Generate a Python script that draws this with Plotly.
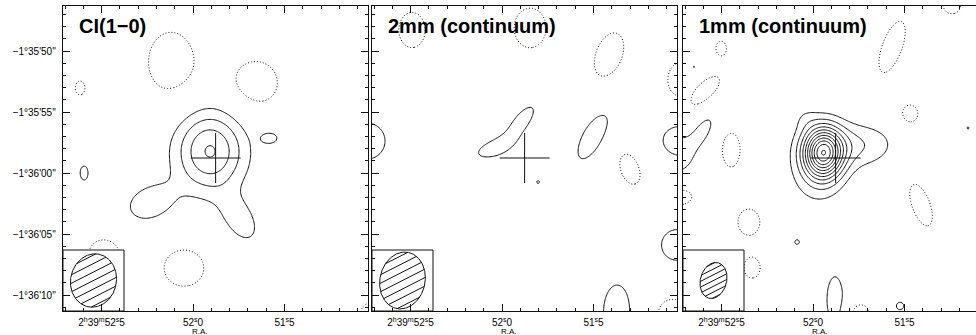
import numpy as np
import plotly.graph_objects as go

# ---------------- data ----------------
titles = ["CI(1\u22120)", "2mm (continuum)", "1mm (continuum)"]

# Emission components (offsets in arcsec from 02h39m52.0s, -01d36'00"; east positive),
# amplitude in units of the contour step, gaussian sigmas (arcsec), PA (deg E of N)
ci_dra  = [-1.39, 3.52, -3.85, -6.30, 8.93, 1.80, -5.16, 0.74, 7.30, 9.26, -14.50]
ci_ddec = [1.80, -2.46, -3.85, 2.87, 0.00, 9.10, 7.38, -7.79, -6.72, 6.97, -11.40]
ci_amp  = [4.1, 1.7, 1.6, 1.55, 1.1, -1.5, -1.5, -1.5, -1.5, -1.1, -1.5]
ci_smaj = [2.30, 1.64, 1.64, 0.60, 1.30, 2.70, 1.95, 1.80, 1.40, 1.30, 0.80]
ci_smin = [2.00, 1.15, 0.98, 0.40, 0.74, 2.05, 1.95, 1.65, 1.40, 0.90, 0.80]
ci_pa   = [0, -68, 32, 90, 0, 0, 0, 90, 0, 0, 0]

mm2_dra  = [0.90, -1.56, -7.46, 11.07, -14.67, -14.34, -9.43, -2.95, 7.38, -2.30, -8.77, -10.49, -14.67, -14.00]
mm2_ddec = [1.97, 4.18, 3.03, 2.62, 2.70, -5.90, -11.40, -0.74, 11.72, 11.89, 9.67, 0.33, 7.62, -11.60]
mm2_amp  = [1.3, 1.35, 1.5, 1.5, 1.5, 1.5, 1.5, 1.03, -1.5, -1.5, -1.5, -1.5, -1.5, -1.5]
mm2_smaj = [1.40, 1.90, 2.30, 1.64, 1.64, 1.40, 2.46, 0.45, 1.60, 1.80, 2.10, 1.45, 1.60, 1.40]
mm2_smin = [0.62, 0.72, 0.90, 1.64, 1.40, 1.40, 1.23, 0.45, 1.20, 1.45, 1.20, 0.85, 1.20, 1.40]
mm2_pa   = [-70, -38, -29, 0, 90, 0, 0, 0, 0, 0, -20, 20, 0, 0]

mm1_dra  = [-0.82, -3.44, 0.66, -0.16, -6.48, 8.85, 7.54, 6.72, -7.95, -8.85, 5.25, 5.00, 10.90,
            -11.39, -3.85, -7.13, 8.85, 11.31, -1.80, 9.75, 1.31, -12.70]
mm1_ddec = [1.64, 2.30, 4.50, -0.20, 10.33, 6.72, 10.25, 1.89, 4.84, -2.62, -4.02, -7.79, -1.89,
            13.77, -11.50, -10.90, 3.69, 1.48, -10.40, 8.69, -5.66, 3.69]
mm1_amp  = [9.5, 2.0, 0.6, 1.0, -1.5, -1.5, -1.3, -1.5, -1.5, -1.5, -1.5, -1.5, -1.5,
            -1.5, -1.5, 1.2, 1.2, 1.5, 1.5, 1.05, 1.1, 1.05]
mm1_smaj = [1.45, 2.30, 0.70, 2.30, 2.46, 1.70, 0.74, 1.55, 0.82, 2.00, 1.18, 0.91, 1.18,
            0.80, 0.80, 0.50, 1.35, 1.55, 2.10, 0.35, 0.35, 0.30]
mm1_smin = [1.10, 1.30, 0.70, 1.80, 0.90, 0.75, 0.57, 0.82, 0.73, 0.82, 1.00, 0.73, 0.82,
            0.80, 0.80, 0.50, 0.68, 1.37, 0.73, 0.35, 0.35, 0.30]
mm1_pa   = [0, 90, 0, 0, -20, -45, 0, 0, 0, 20, 0, 0, 90,
            0, 0, 0, -30, 0, 0, 0, 0, 0]

n_levels = [5, 5, 13]          # positive contour levels 1..n (steps)

# synthesized beams (arcsec, deg)
beam_maj = [4.40, 4.70, 3.00]
beam_min = [3.75, 3.70, 2.15]
beam_pa  = [-12, -12, -15]
beam_box = 5.0
hatch_step = [0.62, 0.62, 0.42]
hatch_angle = 27.0

# reference position (cross)
cross_dra, cross_ddec, cross_arm = -1.85, 1.23, 2.05

# axis ticks
ra_major = [52.5, 52.0, 51.5]
ra_major_text = ["2<sup>h</sup>39<sup>m</sup>52<sup>s</sup>5", "52<sup>s</sup>0", "51<sup>s</sup>5"]
dec_major = [10, 5, 0, -5, -10]
dec_major_text = ["\u22121\u00b035'50''", "\u22121\u00b035'55''", "\u22121\u00b036'00''",
                  "\u22121\u00b036'05''", "\u22121\u00b036'10''"]

# ---------------- figure ----------------
W, H = 976, 335
left_px = [63, 372, 683]
right_px = [368, 677, 976]
top_px, bot_px = 6, 311
pxa = 12.2
x_left = 10.66
y_lo, y_hi = -11.31, 13.69
sec2arc = 15.0 * np.cos(np.deg2rad(1.6))

gx = np.linspace(-16, 12, 281)
gy = np.linspace(-12.5, 15, 276)
GX, GY = np.meshgrid(gx, gy)

def field(dra, ddec, amp, smaj, smin, pa):
    z = np.zeros_like(GX)
    for x0, y0, a, s1, s2, p in zip(dra, ddec, amp, smaj, smin, pa):
        t = np.deg2rad(p)
        dx, dy = GX - x0, GY - y0
        u = dx * np.sin(t) + dy * np.cos(t)
        v = dx * np.cos(t) - dy * np.sin(t)
        z += a * np.exp(-u**2 / (2 * s1**2) - v**2 / (2 * s2**2))
    return z

fields = [field(ci_dra, ci_ddec, ci_amp, ci_smaj, ci_smin, ci_pa),
          field(mm2_dra, mm2_ddec, mm2_amp, mm2_smaj, mm2_smin, mm2_pa),
          field(mm1_dra, mm1_ddec, mm1_amp, mm1_smaj, mm1_smin, mm1_pa)]

fig = go.Figure()
LC = "#111111"
black_cs = [[0, LC], [1, LC]]

for i in range(3):
    xa = "x" if i == 0 else f"x{i+1}"
    ya = "y" if i == 0 else f"y{i+1}"
    z = fields[i]
    fig.add_trace(go.Contour(x=gx, y=gy, z=z, autocontour=False,
                             contours=dict(start=1, end=n_levels[i], size=1, coloring="lines"),
                             colorscale=black_cs, showscale=False, line=dict(width=1),
                             hoverinfo="skip", xaxis=xa, yaxis=ya))
    fig.add_trace(go.Contour(x=gx, y=gy, z=-z, autocontour=False,
                             contours=dict(start=1, end=1, size=1, coloring="lines"),
                             colorscale=black_cs, showscale=False,
                             line=dict(width=1, dash="1px,2px"),
                             hoverinfo="skip", xaxis=xa, yaxis=ya))
    # cross
    fig.add_trace(go.Scatter(x=[cross_dra + cross_arm, cross_dra - cross_arm, None, cross_dra, cross_dra],
                             y=[cross_ddec, cross_ddec, None, cross_ddec + cross_arm, cross_ddec - cross_arm],
                             mode="lines", line=dict(color=LC, width=1), hoverinfo="skip",
                             showlegend=False, xaxis=xa, yaxis=ya))
    # beam box
    bx0, bx1 = x_left, x_left - beam_box
    by0, by1 = y_lo, y_lo + beam_box
    fig.add_trace(go.Scatter(x=[bx0, bx1, bx1, bx0, bx0], y=[by0, by0, by1, by1, by0],
                             mode="lines", fill="toself", fillcolor="white",
                             line=dict(color=LC, width=1), hoverinfo="skip",
                             showlegend=False, xaxis=xa, yaxis=ya))
    # beam ellipse
    cx, cy = x_left - beam_box / 2, y_lo + beam_box / 2
    a, b, p = beam_maj[i] / 2, beam_min[i] / 2, np.deg2rad(beam_pa[i])
    uu = np.array([np.sin(p), np.cos(p)])
    vv = np.array([np.cos(p), -np.sin(p)])
    t = np.linspace(0, 2 * np.pi, 200)
    ex = cx + a * np.cos(t) * uu[0] + b * np.sin(t) * vv[0]
    ey = cy + a * np.cos(t) * uu[1] + b * np.sin(t) * vv[1]
    # hatch lines
    th = np.deg2rad(hatch_angle)
    d = np.array([-np.cos(th), np.sin(th)])
    nrm = np.array([np.sin(th), np.cos(th)])
    hx, hy = [], []
    for k in range(-12, 13):
        q = k * hatch_step[i] * nrm
        qu, qv = q @ uu, q @ vv
        du, dv = d @ uu, d @ vv
        A = (du / a) ** 2 + (dv / b) ** 2
        B = 2 * (qu * du / a**2 + qv * dv / b**2)
        C = (qu / a) ** 2 + (qv / b) ** 2 - 1
        disc = B * B - 4 * A * C
        if disc <= 0:
            continue
        s1 = (-B - np.sqrt(disc)) / (2 * A)
        s2 = (-B + np.sqrt(disc)) / (2 * A)
        hx += [cx + q[0] + s1 * d[0], cx + q[0] + s2 * d[0], None]
        hy += [cy + q[1] + s1 * d[1], cy + q[1] + s2 * d[1], None]
    fig.add_trace(go.Scatter(x=hx, y=hy, mode="lines", line=dict(color=LC, width=1),
                             hoverinfo="skip", showlegend=False, xaxis=xa, yaxis=ya))
    fig.add_trace(go.Scatter(x=ex, y=ey, mode="lines", line=dict(color=LC, width=1),
                             hoverinfo="skip", showlegend=False, xaxis=xa, yaxis=ya))

layout = dict(width=W, height=H, margin=dict(l=0, r=0, t=0, b=0),
              paper_bgcolor="white", plot_bgcolor="white", showlegend=False,
              font=dict(family="Liberation Sans, Arial, sans-serif", color="black"))

ra_major_off = [(s - 52.0) * sec2arc for s in ra_major]
ra_minor_off = [(s - 52.0) * sec2arc for s in np.round(np.arange(51.0, 52.81, 0.1), 2)]
dec_minor = list(range(-12, 15))

annotations = []
for i in range(3):
    xk = "xaxis" if i == 0 else f"xaxis{i+1}"
    yk = "yaxis" if i == 0 else f"yaxis{i+1}"
    ya = "y" if i == 0 else f"y{i+1}"
    xa = "x" if i == 0 else f"x{i+1}"
    x_right = x_left - (right_px[i] - left_px[i]) / pxa
    layout[xk] = dict(domain=[left_px[i] / W, right_px[i] / W], range=[x_left, x_right],
                      anchor=ya, showgrid=False, zeroline=False, showline=True,
                      linecolor=LC, linewidth=1, mirror="ticks", ticks="inside",
                      ticklen=7, tickcolor=LC, tickwidth=1,
                      tickmode="array", tickvals=ra_major_off, ticktext=ra_major_text,
                      tickfont=dict(size=10), ticklabelstandoff=2,
                      minor=dict(tickmode="array", tickvals=ra_minor_off, ticks="inside",
                                 ticklen=3, tickcolor=LC, showgrid=False))
    layout[yk] = dict(domain=[1 - bot_px / H, 1 - top_px / H], range=[y_lo, y_hi],
                      anchor=xa, showgrid=False, zeroline=False, showline=True,
                      linecolor=LC, linewidth=1, mirror=("ticks" if i < 2 else False),
                      ticks="inside", ticklen=7, tickcolor=LC, tickwidth=1,
                      tickmode="array", tickvals=dec_major, ticktext=dec_major_text,
                      showticklabels=(i == 0), tickfont=dict(size=10), ticklabelstandoff=4,
                      minor=dict(tickmode="array", tickvals=dec_minor, ticks="inside",
                                 ticklen=3, tickcolor=LC, showgrid=False))
    annotations.append(dict(text="<b>%s</b>" % titles[i], xref="paper", yref="paper",
                            x=(left_px[i] + 14) / W, y=1 - 26 / H, xanchor="left",
                            yanchor="middle", showarrow=False,
                            font=dict(size=20, family="Liberation Sans, Arial, sans-serif")))
    annotations.append(dict(text="R.A.", xref=xa, yref="paper", x=-0.6, y=1 - 331 / H,
                            xanchor="center", yanchor="middle", showarrow=False,
                            font=dict(size=8)))
layout["annotations"] = annotations
fig.update_layout(**layout)
fig.write_html("out.html")
